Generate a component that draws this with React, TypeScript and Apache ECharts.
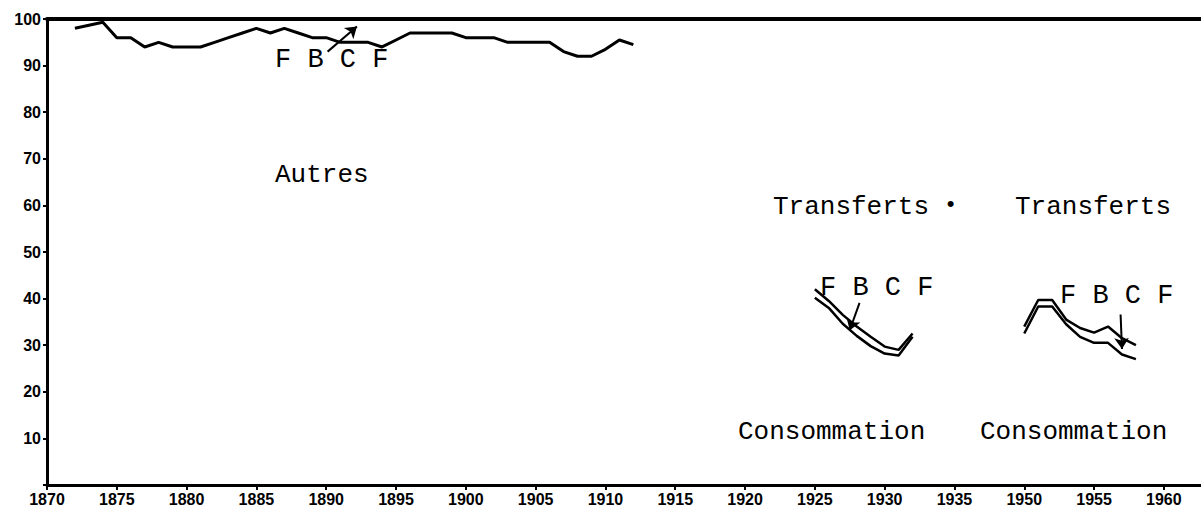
import React, { useEffect, useRef } from "react";
import * as echarts from "echarts";

// Axis ticks (real years); the axis skips 1935-1950
const xTickYears = [1870, 1875, 1880, 1885, 1890, 1895, 1900, 1905, 1910, 1915, 1920, 1925, 1930, 1935, 1950, 1955, 1960];
const yTicks = [10, 20, 30, 40, 50, 60, 70, 80, 90, 100];

// Upper curve 1872-1912
const topYears = [1872, 1874, 1875, 1876, 1877, 1878, 1879, 1881, 1882, 1883, 1884, 1885, 1886, 1887, 1888, 1889, 1890, 1891, 1893, 1894, 1895, 1896, 1899, 1900, 1902, 1903, 1906, 1907, 1908, 1909, 1910, 1911, 1912];
const topValues = [98, 99.3, 96, 96, 94, 95, 94, 94, 95, 96, 97, 98, 97, 98, 97, 96, 96, 95, 95, 94, 95.5, 97, 97, 96, 96, 95, 95, 93, 92, 92, 93.5, 95.5, 94.5];

// 1925-1932 pair of curves
const g1Years = [1925, 1926, 1927, 1928, 1929, 1930, 1931, 1932];
const g1Upper = [42, 39.5, 36.5, 34, 31.8, 29.7, 29, 32.5];
const g1Lower = [40.2, 38, 34.6, 32, 29.8, 28.2, 27.8, 31.8];

// 1950-1958 pair of curves
const g2Years = [1950, 1951, 1952, 1953, 1954, 1955, 1956, 1957, 1958];
const g2Upper = [34, 39.7, 39.7, 35.5, 33.7, 32.7, 34, 31.5, 30];
const g2Lower = [32.5, 38.3, 38.3, 34.5, 31.8, 30.5, 30.5, 28, 27];

// Arrows [startYear, startValue, endYear, endValue]
const arrowTop = [1890.1, 93.0, 1892.2, 98.4];
const arrowG1 = [1928.2, 39.1, 1927.5, 33.2];
const arrowG2 = [1956.9, 36.6, 1957.0, 29.2];

const GAP_START = 1935;
const GAP_YEARS = 10; // 1935 -> 1950 occupies one 5-year step
const toAxis = (year: number) => (year > GAP_START + 5 ? year - GAP_YEARS : year);
const fromAxis = (v: number) => (v > GAP_START ? v + GAP_YEARS : v);

const pairs = (xs: number[], ys: number[]) => xs.map((x, i) => [toAxis(x), ys[i]]);
const arrow = (a: number[]) => [[{ coord: [toAxis(a[0]), a[1]] }, { coord: [toAxis(a[2]), a[3]] }]];

const MONO = "'Liberation Mono', 'DejaVu Sans Mono', monospace";
const SANS = "'Liberation Sans', Arial, sans-serif";

export default function App() {
  const ref = useRef<HTMLDivElement>(null);
  useEffect(() => {
    document.body.style.margin = "0";
    if (!ref.current) return;
    const chart = echarts.init(ref.current, undefined, { renderer: "svg" });
    const xMin = xTickYears[0];
    const xMax = 1952.66;
    const markArrow = (a: number[]) => ({
      silent: true,
      symbol: ["none", "arrow"],
      symbolSize: 11,
      label: { show: false },
      lineStyle: { color: "#000", width: 2, type: "solid" },
      data: arrow(a),
    });
    const lineSeries = (name: string, xs: number[], ys: number[], width: number, extra: any = {}) => ({
      name,
      type: "line",
      data: pairs(xs, ys),
      showSymbol: false,
      symbol: "none",
      lineStyle: { color: "#000", width },
      ...extra,
    });
    const text = (t: string, x: number, y: number, size = 26) => ({
      type: "text",
      x,
      y,
      style: { text: t, fill: "#000", font: `${size}px ${MONO}`, textVerticalAlign: "middle" },
    });
    chart.setOption({
      animation: false,
      backgroundColor: "#fff",
      grid: { left: 47, right: 0, top: 19, bottom: 27, containLabel: false },
      xAxis: [
        {
          type: "value",
          min: xMin,
          max: xMax,
          interval: 5,
          axisLine: { lineStyle: { color: "#000", width: 3 } },
          axisTick: { length: 5, lineStyle: { color: "#000", width: 2 } },
          axisLabel: {
            color: "#000",
            fontSize: 16,
            fontWeight: "bold",
            fontFamily: SANS,
            margin: 6,
            showMaxLabel: false,
            formatter: (v: number) => {
              const y = fromAxis(v);
              return xTickYears.includes(y) ? String(y) : "";
            },
          },
          splitLine: { show: false },
        },
        {
          type: "value",
          position: "top",
          min: xMin,
          max: xMax,
          axisLine: { lineStyle: { color: "#000", width: 4 } },
          axisTick: { show: false },
          axisLabel: { show: false },
          splitLine: { show: false },
        },
      ],
      yAxis: {
        type: "value",
        min: 0,
        max: 100,
        interval: 10,
        axisLine: { show: true, lineStyle: { color: "#000", width: 3 } },
        axisTick: { show: true, length: 4, lineStyle: { color: "#000", width: 2 } },
        axisLabel: {
          color: "#000",
          fontSize: 16,
          fontWeight: "bold",
          fontFamily: SANS,
          margin: 6,
          formatter: (v: number) => (yTicks.includes(v) ? String(v) : ""),
        },
        splitLine: { show: false },
      },
      series: [
        lineSeries("FBCF 1872-1912", topYears, topValues, 3, { markLine: markArrow(arrowTop) }),
        lineSeries("Haut 1925-1932", g1Years, g1Upper, 2.5, { markLine: markArrow(arrowG1) }),
        lineSeries("Bas 1925-1932", g1Years, g1Lower, 2.5),
        lineSeries("Haut 1950-1958", g2Years, g2Upper, 2.5, { markLine: markArrow(arrowG2) }),
        lineSeries("Bas 1950-1958", g2Years, g2Lower, 2.5),
      ],
      graphic: [
        text("F B C F", 275, 60, 27),
        text("Autres", 275, 175),
        text("Transferts", 773, 207),
        text("•", 944, 205, 22),
        text("Transferts", 1015, 207),
        text("F B C F", 820, 288, 27),
        text("F B C F", 1060, 296, 27),
        text("Consommation", 738, 432),
        text("Consommation", 980, 432),
      ],
    });
    return () => chart.dispose();
  }, []);
  return <div ref={ref} style={{ width: 1201, height: 512 }} />;
}
